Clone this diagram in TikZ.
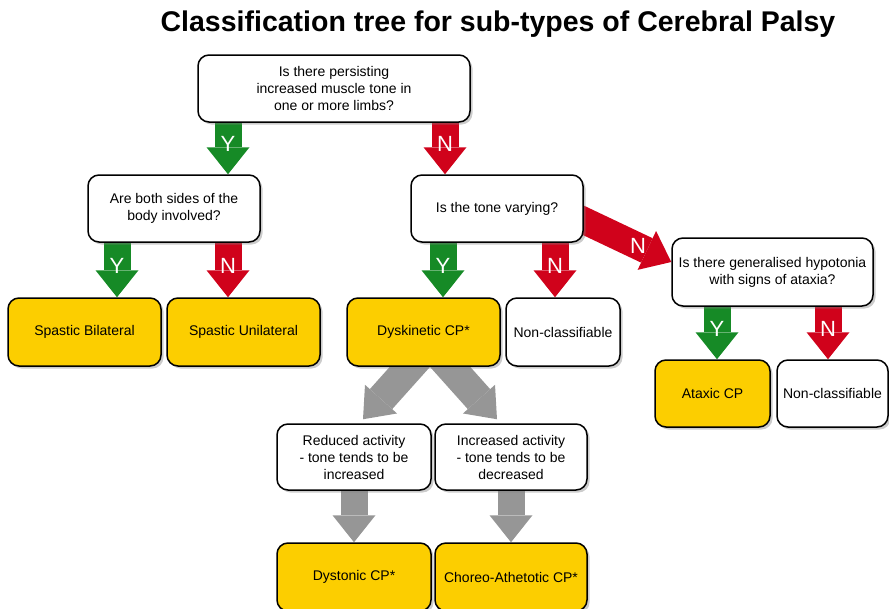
\documentclass[tikz,border=0pt]{standalone}
\usepackage{fontspec}
\setmainfont{Liberation Sans}
\usepackage{tikz}
\usetikzlibrary{arrows.meta,shadows,backgrounds}
\definecolor{cpgold}{RGB}{252,206,0}
\definecolor{cpgreen}{RGB}{22,138,38}
\definecolor{cpred}{RGB}{208,2,27}
\definecolor{cpgray}{RGB}{150,150,150}

\begin{document}
\begin{tikzpicture}[x=1pt, y=-1pt,
    qbox/.style={draw=black, line width=1.5pt, rounded corners=11pt, fill=white,
      align=center, inner sep=2pt, font=\fontsize{14}{17}\selectfont,
      drop shadow={shadow xshift=2.5pt, shadow yshift=-2.5pt, opacity=0.4}},
    cpbox/.style={qbox, fill=cpgold},
    fat/.style={line width=27pt, -{Triangle[width=43pt,length=27pt,line width=0pt]},
      shorten <=-14pt},
    yes/.style={fat, draw=cpgreen},
    no/.style={fat, draw=cpred},
    sub/.style={fat, draw=cpgray},
    yn/.style={text=white, font=\fontsize{22}{22}\selectfont, inner sep=0pt, pos=0.42}]
                \useasboundingbox (0,0) rectangle (889,608);

                % Title
                \node[font=\fontsize{28.5}{30}\selectfont\bfseries, anchor=base] (title) at (498,31)
                    {Classification tree for sub-types of Cerebral Palsy};

                % Questions
                \node[qbox, minimum width=272pt, minimum height=67pt] (tone) at (334,88.5)
                    {Is there persisting\\increased muscle tone in\\one or more limbs?};
                \node[qbox, minimum width=172pt, minimum height=67pt] (sides) at (174,208.5)
                    {Are both sides of the\\body involved?};
                \node[qbox, minimum width=172pt, minimum height=67pt] (vary) at (497,208.5)
                    {Is the tone varying?};
                \node[qbox, minimum width=201pt, minimum height=68pt] (hypo) at (772.5,272)
                    {Is there generalised hypotonia\\with signs of ataxia?};

                % Sub-types
                \node[cpbox, minimum width=153pt, minimum height=68pt] (bilat) at (84.5,332) {Spastic Bilateral};
                \node[cpbox, minimum width=153pt, minimum height=68pt] (unilat) at (243.5,332) {Spastic Unilateral};
                \node[cpbox, minimum width=153pt, minimum height=68pt] (dysk) at (423.5,332) {Dyskinetic CP*};
                \node[qbox, minimum width=114pt, minimum height=68pt] (noneA) at (563,332) {Non-classifiable};
                \node[cpbox, minimum width=115pt, minimum height=67pt] (atax) at (712.5,393.5) {Ataxic CP};
                \node[qbox, minimum width=111pt, minimum height=67pt] (noneB) at (832.5,393.5) {Non-classifiable};

                % Dyskinetic split
                \node[qbox, minimum width=154pt, minimum height=66pt] (reduced) at (354,457)
                    {Reduced activity\\- tone tends to be\\increased};
                \node[qbox, minimum width=152pt, minimum height=66pt] (increased) at (511,457)
                    {Increased activity\\- tone tends to be\\decreased};
                \node[cpbox, minimum width=154pt, minimum height=68pt] (dystonic) at (354,577) {Dystonic CP*};
                \node[cpbox, minimum width=152pt, minimum height=68pt] (choreo) at (511,577) {Choreo-Athetotic CP*};

                % Arrow columns
                \coordinate (colA) at (228,0);
                \coordinate (colB) at (445,0);
                \coordinate (colC) at (117,0);
                \coordinate (colD) at (443,0);
                \coordinate (colE) at (555,0);
                \coordinate (colF) at (717,0);
                \coordinate (colG) at (828,0);

                % Arrows
                \begin{pgfonlayer}{background}
                    \draw[yes] (tone.south -| colA) -- node[yn] {Y} (sides.north -| colA);
                    \draw[no] (tone.south -| colB) -- node[yn] {N} (vary.north -| colB);
                    \draw[yes] (sides.south -| colC) -- node[yn] {Y} (bilat.north -| colC);
                    \draw[no] (sides.south -| colA) -- node[yn] {N} (unilat.north -| colA);
                    \draw[yes] (vary.south -| colD) -- node[yn] {Y} (dysk.north -| colD);
                    \draw[no] (vary.south -| colE) -- node[yn] {N} (noneA.north -| colE);
                    \draw[no] ([yshift=-12pt]vary.east) -- node[yn, pos=0.62] {N} ([yshift=10pt]hypo.west);
                    \draw[yes] (hypo.south -| colF) -- node[yn] {Y} (atax.north -| colF);
                    \draw[no] (hypo.south -| colG) -- node[yn] {N} (noneB.north -| colG);
                    \draw[sub, line width=30pt] ([xshift=-13.5pt]dysk.south) -- ([xshift=9pt,yshift=4pt]reduced.north);
                    \draw[sub, line width=30pt] ([xshift=26.5pt]dysk.south) -- ([xshift=-14pt,yshift=4pt]increased.north);
                    \draw[sub] (reduced.south) -- (dystonic.north);
                    \draw[sub] (increased.south) -- (choreo.north);
                \end{pgfonlayer}
            \end{tikzpicture}
\end{document}
